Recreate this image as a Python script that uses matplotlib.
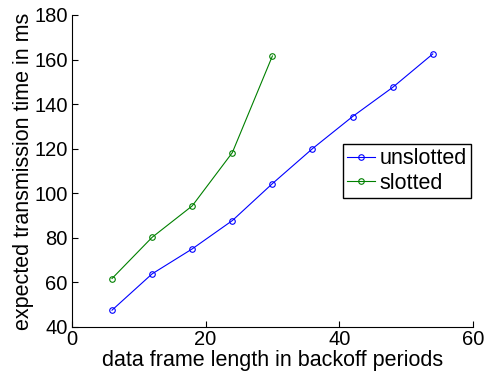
import matplotlib
matplotlib.use("Agg")
import matplotlib.pyplot as plt

plt.rcParams['font.family'] = ['Liberation Sans', 'DejaVu Sans']

# frame length in backoff periods
unslotted_x = [6, 12, 18, 24, 30, 36, 42, 48, 54]
unslotted_y = [47.5, 63.8, 75.0, 87.7, 104.3, 120.0, 134.4, 147.5, 162.5]
slotted_x = [6, 12, 18, 24, 30]
slotted_y = [61.7, 80.2, 94.3, 118.2, 161.6]

fig = plt.figure(figsize=(4.86, 3.74), dpi=100)
ax = fig.add_axes([0.148, 0.126, 0.825, 0.834])

ax.plot(unslotted_x, unslotted_y, '-o', color='#0000ff', lw=0.8,
        markersize=4, markerfacecolor='none', markeredgewidth=0.8, label='unslotted')
ax.plot(slotted_x, slotted_y, '-o', color='#008000', lw=0.8,
        markersize=4, markerfacecolor='none', markeredgewidth=0.8, label='slotted')

ax.set_xlim(0, 60)
ax.set_ylim(40, 180)
ax.set_xticks([0, 20, 40, 60])
ax.set_yticks(range(40, 181, 20))
ax.spines['top'].set_visible(False)
ax.spines['right'].set_visible(False)
ax.tick_params(direction='in', labelsize=14.5, length=4, pad=3)
ax.tick_params(axis='x', pad=2)

ax.set_xlabel('data frame length in backoff periods', fontsize=15.5, labelpad=1)
ax.set_ylabel('expected transmission time in ms', fontsize=15.5, labelpad=0)

leg = ax.legend(loc='upper left', bbox_to_anchor=(0.705, 0.615),
                bbox_transform=fig.transFigure, fontsize=15.5, fancybox=False,
                framealpha=1, edgecolor='black', handlelength=1.3,
                handletextpad=0.2, borderpad=0.2, labelspacing=0.15,
                borderaxespad=0)
leg.get_frame().set_linewidth(1.0)

fig.savefig('out.png', dpi=100)
